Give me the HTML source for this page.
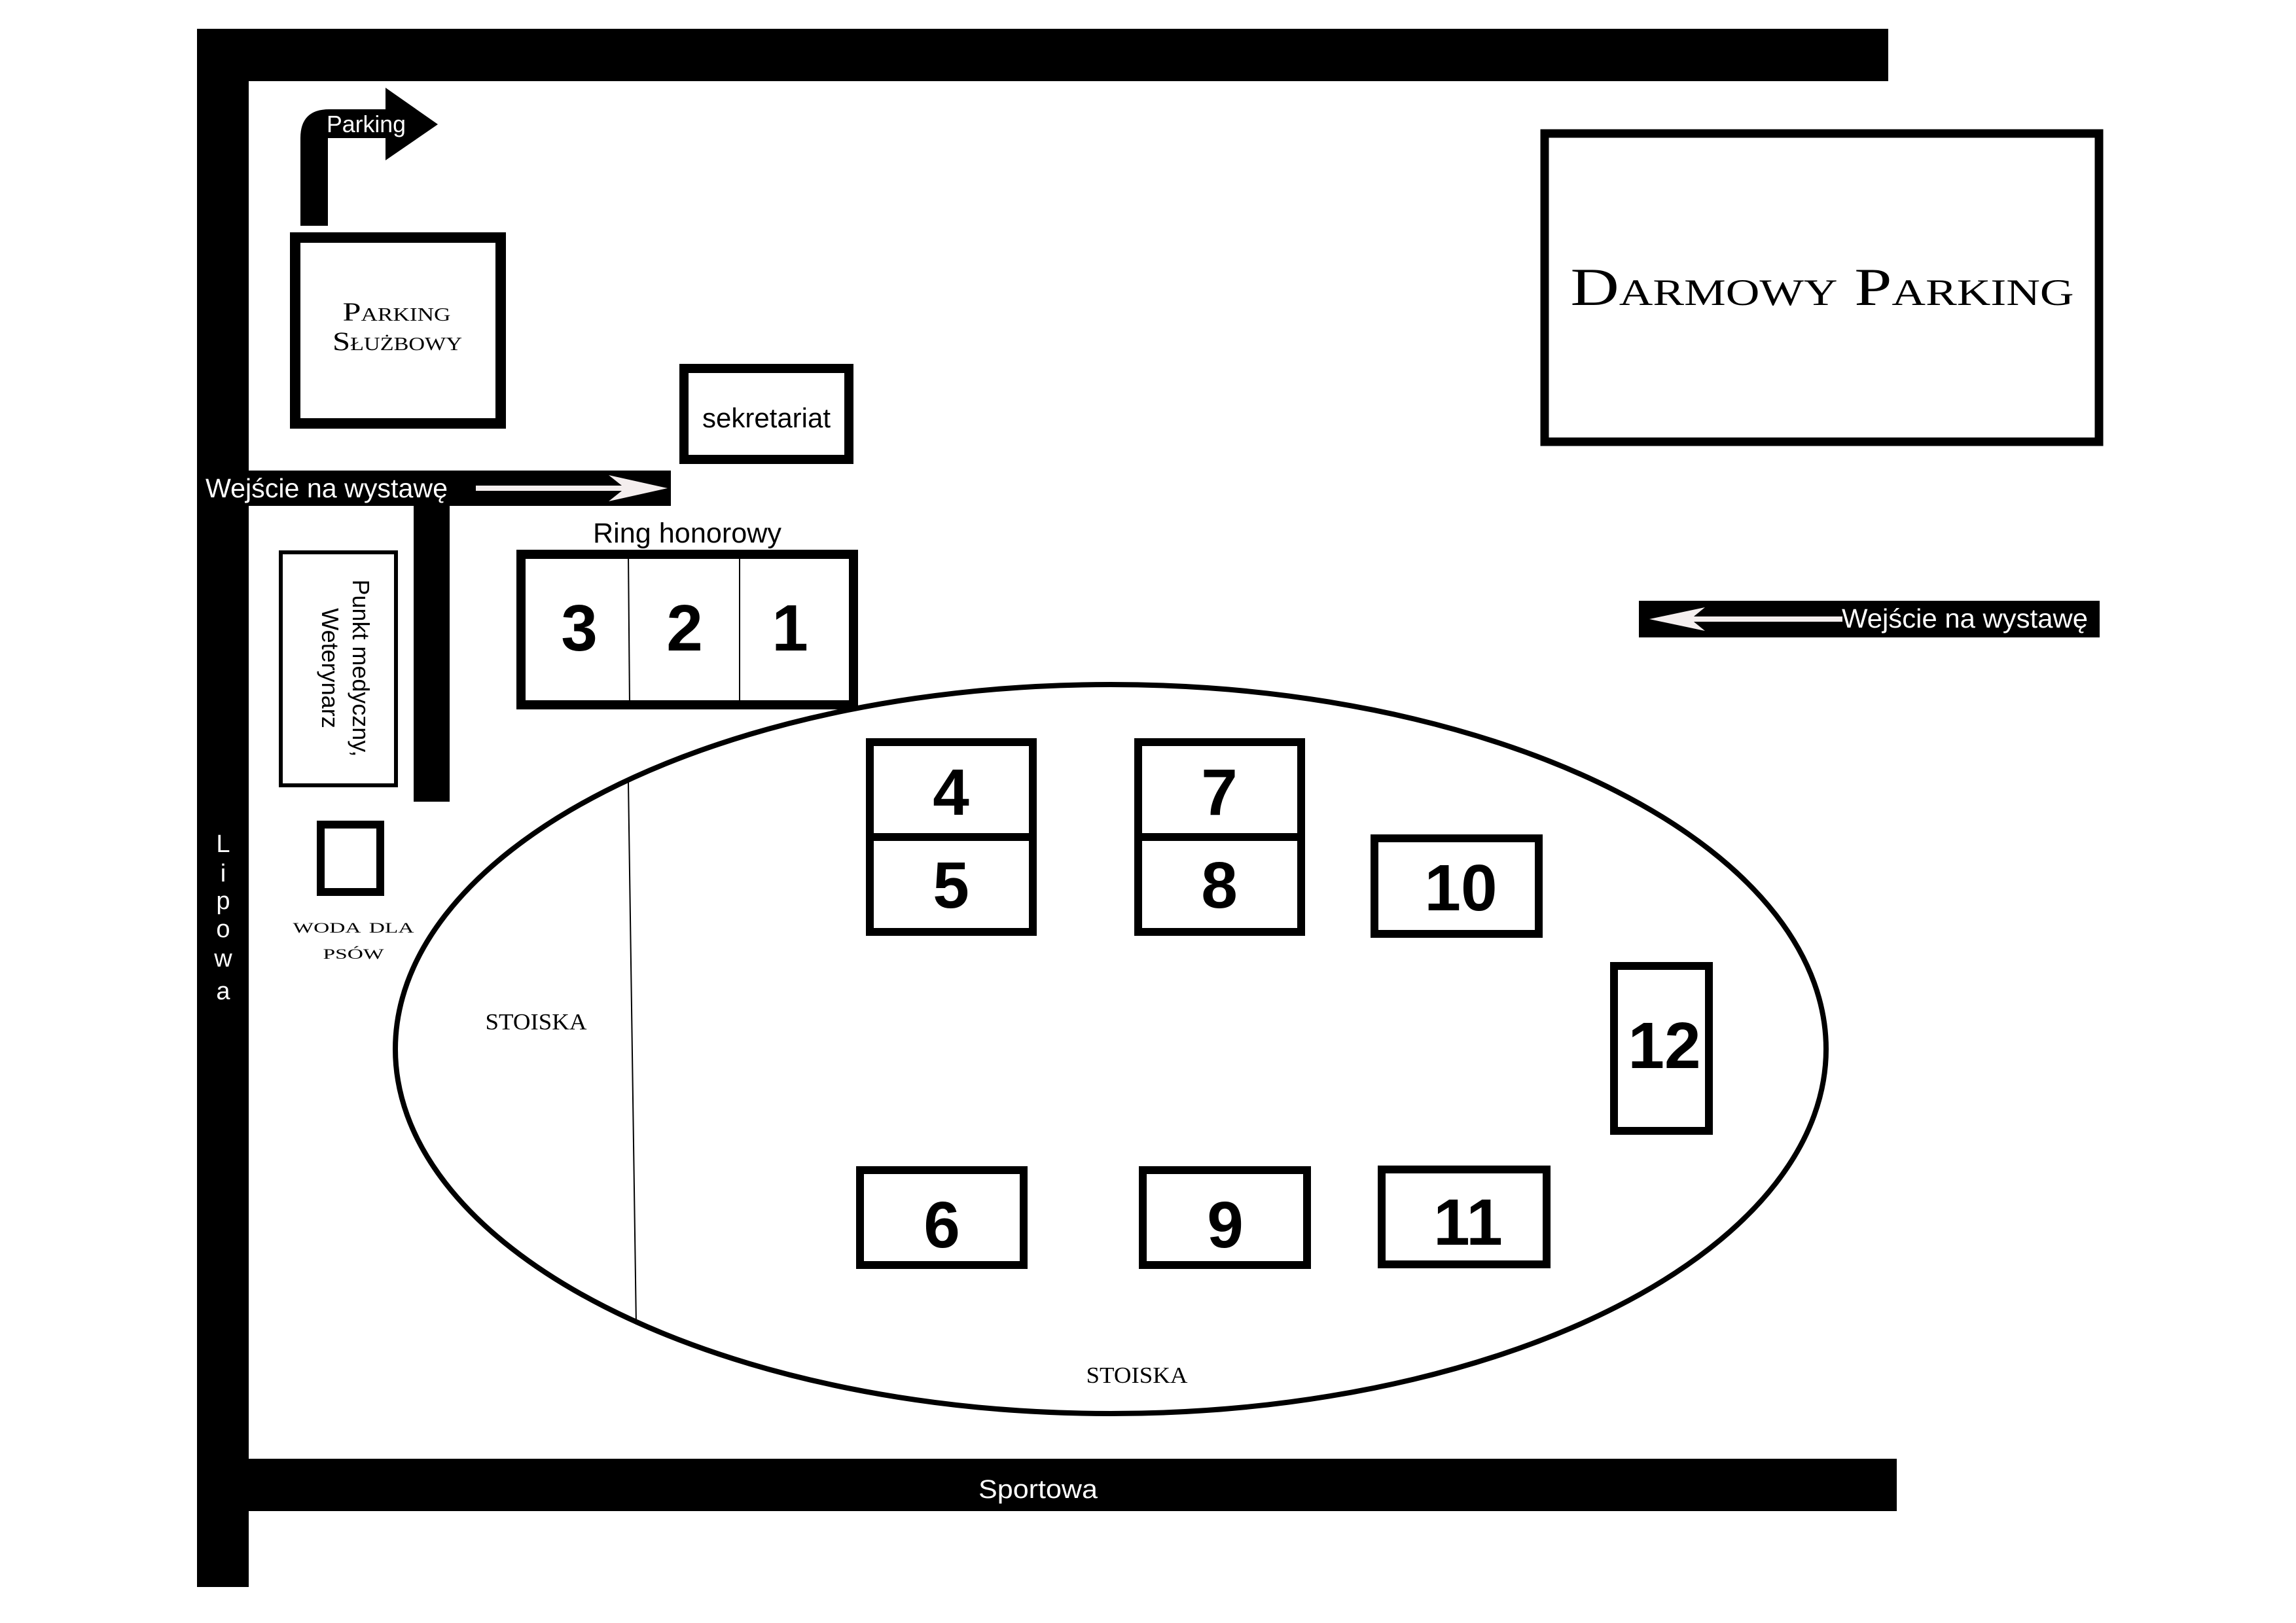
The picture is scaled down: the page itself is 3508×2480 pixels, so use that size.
<!DOCTYPE html>
<html><head><meta charset="utf-8"><style>
html,body{margin:0;padding:0;background:#fff;}
svg{display:block;}
.s{font-family:"Liberation Sans",sans-serif;}
.r{font-family:"Liberation Serif",serif;}
.d{font-family:"Liberation Sans",sans-serif;font-weight:bold;font-size:100px;text-anchor:middle;}
</style></head><body>
<svg width="3508" height="2480" viewBox="0 0 3508 2480" xmlns="http://www.w3.org/2000/svg">
<rect width="3508" height="2480" fill="#fff"/>
<!-- walls -->
<rect x="301" y="44" width="2584" height="80" fill="#000"/>
<rect x="301" y="44" width="79" height="2381" fill="#000"/>
<rect x="380" y="2229" width="2518" height="80" fill="#000"/>
<text x="1586" y="2289" class="s" font-size="40" fill="#fff" text-anchor="middle" textLength="182" lengthAdjust="spacingAndGlyphs">Sportowa</text>
<!-- Lipowa -->
<g class="s" font-size="38" fill="#fff" text-anchor="middle">
<text x="341" y="1302">L</text><text x="341" y="1347">i</text><text x="341" y="1389">p</text>
<text x="341" y="1432">o</text><text x="341" y="1477">w</text><text x="341" y="1527">a</text>
</g>
<!-- parking arrow -->
<path d="M459,345 L459,211 Q459,167 503,167 L589,167 L589,134 L669,190 L589,245 L589,211 L501,211 L501,345 Z" fill="#000"/>
<text x="499" y="202" class="s" font-size="36" fill="#fff" textLength="121" lengthAdjust="spacingAndGlyphs">Parking</text>
<!-- parking sluzbowy -->
<rect x="451" y="363" width="314" height="284" fill="none" stroke="#000" stroke-width="16"/>
<text x="606" y="490" class="r" font-size="40" style="font-variant:small-caps" text-anchor="middle" textLength="165" lengthAdjust="spacingAndGlyphs">Parking</text>
<text x="607" y="535" class="r" font-size="40" style="font-variant:small-caps" text-anchor="middle" textLength="198" lengthAdjust="spacingAndGlyphs">Służbowy</text>
<!-- sekretariat -->
<rect x="1045" y="563" width="252" height="139" fill="none" stroke="#000" stroke-width="14"/>
<text x="1171" y="653" class="s" font-size="42" text-anchor="middle" textLength="196" lengthAdjust="spacingAndGlyphs">sekretariat</text>
<!-- left entrance -->
<rect x="301" y="719" width="724" height="54" fill="#000"/>
<rect x="632" y="719" width="55" height="506" fill="#000"/>
<text x="314" y="760" class="s" font-size="41" fill="#fff" textLength="370" lengthAdjust="spacingAndGlyphs">Wejście na wystawę</text>
<rect x="727" y="742" width="230" height="8" fill="#f4eeee"/>
<polygon points="1020,746 930,726 955,746 930,766" fill="#f4eeee"/>
<!-- punkt medyczny -->
<rect x="429" y="844" width="176" height="356" fill="none" stroke="#000" stroke-width="6"/>
<text x="0" y="0" transform="translate(539,1021) rotate(90)" class="s" font-size="36" text-anchor="middle" textLength="271" lengthAdjust="spacingAndGlyphs">Punkt medyczny,</text>
<text x="0" y="0" transform="translate(492,1021) rotate(90)" class="s" font-size="36" text-anchor="middle">Weterynarz</text>
<!-- water -->
<rect x="490" y="1260" width="91" height="103" fill="none" stroke="#000" stroke-width="12"/>
<text x="540" y="1425" class="r" font-size="32" style="font-variant:small-caps" text-anchor="middle" textLength="185" lengthAdjust="spacingAndGlyphs">woda dla</text>
<text x="540" y="1465" class="r" font-size="32" style="font-variant:small-caps" text-anchor="middle" textLength="93" lengthAdjust="spacingAndGlyphs">psów</text>
<!-- ellipse -->
<ellipse cx="1697" cy="1603" rx="1093" ry="557" fill="none" stroke="#000" stroke-width="8"/>
<line x1="960" y1="1195" x2="972" y2="2024" stroke="#000" stroke-width="2"/>
<text x="819" y="1573" class="r" font-size="35" text-anchor="middle" textLength="155" lengthAdjust="spacingAndGlyphs">STOISKA</text>
<text x="1737" y="2113" class="r" font-size="35" text-anchor="middle" textLength="155" lengthAdjust="spacingAndGlyphs">STOISKA</text>
<!-- ring honorowy -->
<text x="1050" y="829" class="s" font-size="43" text-anchor="middle" textLength="288" lengthAdjust="spacingAndGlyphs">Ring honorowy</text>
<rect x="796" y="847" width="508" height="230" fill="#fff" stroke="#000" stroke-width="14"/>
<line x1="960" y1="847" x2="962" y2="1077" stroke="#000" stroke-width="2"/>
<line x1="1130" y1="847" x2="1130" y2="1077" stroke="#000" stroke-width="2"/>
<text x="885" y="994" class="d">3</text>
<text x="1046" y="994" class="d">2</text>
<text x="1207" y="994" class="d">1</text>
<!-- stands -->
<g fill="none" stroke="#000" stroke-width="12">
<rect x="1329" y="1134" width="249" height="290"/>
<line x1="1329" y1="1279" x2="1578" y2="1279"/>
<rect x="1739" y="1134" width="249" height="290"/>
<line x1="1739" y1="1279" x2="1988" y2="1279"/>
<rect x="2100" y="1281" width="251" height="146"/>
<rect x="2466" y="1476" width="145" height="252"/>
<rect x="1314" y="1788" width="250" height="145"/>
<rect x="1746" y="1788" width="251" height="145"/>
<rect x="2111" y="1787" width="252" height="145"/>
</g>
<g transform="translate(0,-6)">
<text x="1453" y="1251" class="d">4</text>
<text x="1453" y="1393" class="d">5</text>
<text x="1863" y="1251" class="d">7</text>
<text x="1863" y="1393" class="d">8</text>
<text x="2232" y="1397" class="d">10</text>
<text x="2543" y="1638" class="d">12</text>
<text x="1439" y="1912" class="d">6</text>
<text x="1872" y="1912" class="d">9</text>
<text x="2243" y="1908" class="d">11</text>
</g>
<!-- darmowy parking -->
<rect x="2360" y="204" width="847" height="471" fill="none" stroke="#000" stroke-width="13"/>
<text x="2784" y="466" class="r" font-size="82" style="font-variant:small-caps" text-anchor="middle" textLength="769" lengthAdjust="spacingAndGlyphs">Darmowy Parking</text>
<!-- right entrance -->
<rect x="2504" y="918" width="704" height="56" fill="#000"/>
<rect x="2565" y="942" width="250" height="8" fill="#f4eeee"/>
<polygon points="2520,946 2605,928 2583,946 2605,964" fill="#f4eeee"/>
<text x="2814" y="959" class="s" font-size="41" fill="#fff" textLength="376" lengthAdjust="spacingAndGlyphs">Wejście na wystawę</text>
</svg>
</body></html>
